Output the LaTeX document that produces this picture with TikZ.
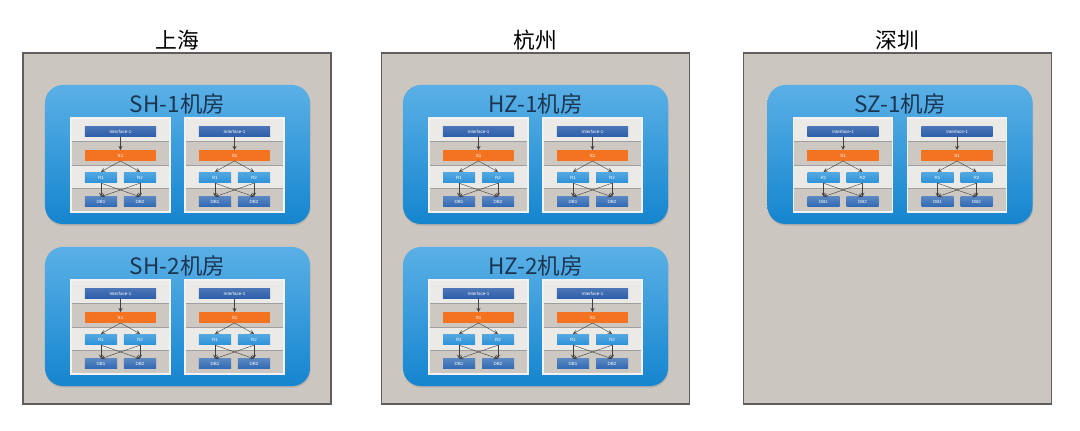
\documentclass[tikz,border=0pt]{standalone}
\usepackage{fontspec}
\setmainfont{Noto Sans CJK SC}
\newfontfamily\boxfont{Liberation Sans}
\usetikzlibrary{shadows}

\definecolor{citygray}{HTML}{CBC6C0}
\definecolor{cityline}{HTML}{5E5E5E}
\definecolor{roomtop}{HTML}{5AB0E6}
\definecolor{roombot}{HTML}{1585CF}
\definecolor{rowlight}{HTML}{ECEAE7}
\definecolor{rowgray}{HTML}{CEC8C2}
\definecolor{ifblue}{HTML}{2C5EAA}
\definecolor{svorange}{HTML}{F47321}
\definecolor{rblue}{HTML}{2B92D8}
\definecolor{dbblue}{HTML}{2F68B2}
\definecolor{roomtext}{HTML}{1C3550}

\begin{document}
\begin{tikzpicture}[x=0.025cm, y=-0.025cm,
  city/.style={draw=cityline, line width=1pt, fill=citygray, minimum width=7.7cm, minimum height=8.775cm, inner sep=0},
  cityname/.style={font=\fontsize{15.5}{16}\selectfont},
  room/.style={rounded corners=0.45cm, top color=roomtop, bottom color=roombot, minimum width=6.625cm, minimum height=3.475cm, inner sep=0,
    drop shadow={shadow xshift=0.4pt, shadow yshift=-1.2pt, opacity=0.3}},
  roomname/.style={text=roomtext, font=\fontsize{16}{16}\selectfont},
  box/.style={text=white, font=\boxfont\fontsize{3.2}{3.2}\selectfont, inner sep=0, minimum height=0.27cm},
  ifbox/.style={box, top color=ifblue!85!white, bottom color=ifblue, minimum width=1.775cm},
  svbox/.style={box, fill=svorange, minimum width=1.775cm, minimum height=0.26cm},
  rbox/.style={box, top color=rblue!80!white, bottom color=rblue, minimum width=0.8cm},
  dbbox/.style={box, top color=dbblue!80!white, bottom color=dbblue, minimum width=0.8cm, minimum height=0.25cm},
  link/.style={->, >=stealth, line width=0.3pt, draw=black!75}]
  \fill [white] (0,0) rectangle (1080,431);
  \useasboundingbox (0,0) rectangle (1080,431);
  % city boxes
  \node [city] (sh) at (177,228.5) {};
  \node [city] (hz) at (535.5,228.5) {};
  \node [city] (sz) at (897.5,228.5) {};
  \node [cityname] (sh-name) at (177,40) {上海};
  \node [cityname] (hz-name) at (535.5,40) {杭州};
  \node [cityname] (sz-name) at (897.5,40) {深圳};
  % rooms, two panels each
  \foreach \cx/\rt/\rn in {177.5/85/SH-1, 177.5/247/SH-2, 535.5/85/HZ-1, 535.5/247/HZ-2, 900/85/SZ-1} {
    \node [room] (room-\rn) at (\cx,\rt+69.5) {};
    \node [roomname] (title-\rn) at (\cx,\rt+18.5) {{\rn}机房};
    \foreach \sx/\sd in {-57/l, 57/r} {
      \pgfmathsetmacro\pcx{\cx+\sx}
      \pgfmathsetmacro\ptop{\rt+33}
      \fill [rowlight] (\pcx-49.5,\ptop) rectangle ++(99,23.5);
      \fill [rowgray] (\pcx-49.5,\ptop+23.5) rectangle ++(99,23.5);
      \fill [rowlight] (\pcx-49.5,\ptop+47) rectangle ++(99,23.5);
      \fill [rowgray] (\pcx-49.5,\ptop+70.5) rectangle ++(99,23.5);
      \draw [gray!75, line width=0.3pt] (\pcx-49.5,\ptop+23.5) -- ++(99,0) (\pcx-49.5,\ptop+47) -- ++(99,0) (\pcx-49.5,\ptop+70.5) -- ++(99,0);
      \draw [white!90!gray, line width=0.8pt] (\pcx-49.5,\ptop) rectangle ++(99,94);
      \node [ifbox] (if-\rn-\sd) at (\pcx,\ptop+13.5) {Interface-1};
      \node [svbox] (sv-\rn-\sd) at (\pcx,\ptop+37.5) {S1};
      \node [rbox] (ra-\rn-\sd) at (\pcx-19.5,\ptop+59.5) {R1};
      \node [rbox] (rb-\rn-\sd) at (\pcx+19.5,\ptop+59.5) {R2};
      \node [dbbox] (da-\rn-\sd) at (\pcx-19.5,\ptop+84) {DB1};
      \node [dbbox] (db-\rn-\sd) at (\pcx+19.5,\ptop+84) {DB2};
      \draw [link] (if-\rn-\sd) -- (sv-\rn-\sd);
      \draw [link] (sv-\rn-\sd.south) -- (ra-\rn-\sd.north);
      \draw [link] (sv-\rn-\sd.south) -- (rb-\rn-\sd.north);
      \draw [link] (ra-\rn-\sd.south) -- (da-\rn-\sd.north);
      \draw [link] (ra-\rn-\sd.south) -- (db-\rn-\sd.north);
      \draw [link] (rb-\rn-\sd.south) -- (da-\rn-\sd.north);
      \draw [link] (rb-\rn-\sd.south) -- (db-\rn-\sd.north);
    }
  }
\end{tikzpicture}
\end{document}
